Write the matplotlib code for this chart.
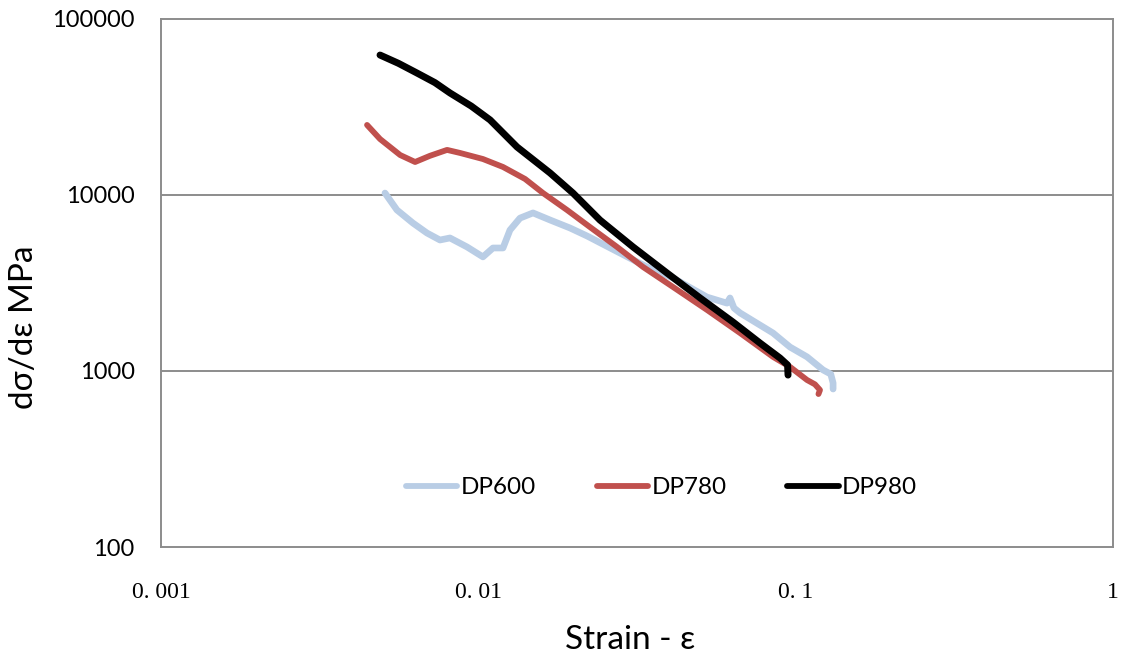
import matplotlib
matplotlib.use("Agg")
import matplotlib.pyplot as plt
from matplotlib.ticker import FixedLocator, NullLocator

# Tangent modulus curves (strain vs. dσ/dε) for three dual-phase steels
dp600_strain = [0.00508, 0.00554, 0.00622, 0.00689, 0.00757, 0.00814, 0.00921,
                0.01034, 0.01112, 0.01196, 0.01258, 0.01353, 0.01487, 0.01683,
                0.01945, 0.02201, 0.02795, 0.03400, 0.04108, 0.05255, 0.06075,
                0.06209, 0.06392, 0.06679, 0.08484, 0.09598, 0.1086, 0.1220,
                0.1290, 0.1312, 0.1312]
dp600_mod = [10260, 8220, 6930, 6080, 5550, 5700, 5070,
             4450, 5000, 5000, 6320, 7390, 7910, 7210,
             6494, 5850, 4680, 3900, 3375, 2630, 2430,
             2600, 2280, 2138, 1644, 1368, 1203, 1014,
             960, 855, 790]

dp780_strain = [0.00446, 0.00490, 0.00567, 0.00632, 0.00704, 0.00797, 0.00876,
                0.01034, 0.01196, 0.01404, 0.01599, 0.01903, 0.02249, 0.02735,
                0.03304, 0.04108, 0.05255, 0.06679, 0.08484, 0.09598, 0.1086,
                0.1150, 0.1193, 0.1180]
dp780_mod = [25000, 20800, 16870, 15400, 16700, 18040, 17330,
             16010, 14430, 12330, 10260, 8220, 6570, 5070,
             3900, 3000, 2224, 1644, 1203, 1055, 889,
             840, 780, 740]

dp980_strain = [0.00490, 0.00560, 0.00641, 0.00730, 0.00814, 0.00950, 0.01089,
                0.01324, 0.01683, 0.01987, 0.02416, 0.03072, 0.03934, 0.04997,
                0.06346, 0.07718, 0.08924, 0.0943, 0.09461]
dp980_mod = [62400, 56000, 49300, 43500, 38000, 32000, 26700,
             18750, 13340, 10260, 7210, 5070, 3600, 2600,
             1897, 1442, 1185, 1082, 948]

series_names = ["DP600", "DP780", "DP980"]
series_colors = ["#B9CDE5", "#C0504D", "#000000"]

y_ticks = [100, 1000, 10000, 100000]
y_tick_labels = ["100", "1000", "10000", "100000"]
x_ticks = [0.001, 0.01, 0.1, 1]
x_tick_labels = ["0. 001", "0. 01", "0. 1", "1"]

fig = plt.figure(figsize=(11.28, 6.6), dpi=100)
ax = fig.add_axes([161 / 1128, 1 - 547 / 660, (1113 - 161) / 1128, (547 - 19) / 660])

ax.set_xscale("log")
ax.set_yscale("log")
ax.set_xlim(0.001, 1)
ax.set_ylim(100, 100000)

grey = "#8C8C8C"
for s in ax.spines.values():
    s.set_color(grey)
    s.set_linewidth(1.4)

for y in y_ticks[1:-1]:
    ax.axhline(y, color=grey, linewidth=1.4, zorder=1)

line_kw = dict(solid_capstyle="round", solid_joinstyle="round", zorder=3)
ax.plot(dp600_strain, dp600_mod, color=series_colors[0], linewidth=4.8,
        label=series_names[0], **line_kw)
ax.plot(dp780_strain, dp780_mod, color=series_colors[1], linewidth=4.2,
        label=series_names[1], **line_kw)
ax.plot(dp980_strain, dp980_mod, color=series_colors[2], linewidth=5.0,
        label=series_names[2], **line_kw)

ax.yaxis.set_major_locator(FixedLocator(y_ticks))
ax.yaxis.set_minor_locator(NullLocator())
ax.set_yticklabels(y_tick_labels, fontfamily="Lato", fontsize=17)
ax.xaxis.set_major_locator(FixedLocator(x_ticks))
ax.xaxis.set_minor_locator(NullLocator())
ax.set_xticklabels(x_tick_labels, fontfamily="Liberation Serif", fontsize=17)
ax.tick_params(axis="both", length=0)
ax.tick_params(axis="y", pad=19)
ax.tick_params(axis="x", pad=25)

fig.text(24 / 1128, 1 - 327 / 660, "dσ/dε MPa", rotation=90, ha="center",
         va="center", fontfamily="Lato", fontsize=24)
fig.text(630 / 1128, 1 - 640 / 660, "Strain - ε", ha="center", va="center",
         fontfamily="Lato", fontsize=24)

leg = ax.legend(loc="center", bbox_to_anchor=(0.526, 0.112), ncol=3,
                frameon=False, prop={"family": "Lato", "size": 17.5},
                handlelength=2.1, handletextpad=0.15, columnspacing=2.5)
for h in leg.get_lines():
    h.set_linewidth(4.2)

fig.savefig("out.png", dpi=100, facecolor="white")
